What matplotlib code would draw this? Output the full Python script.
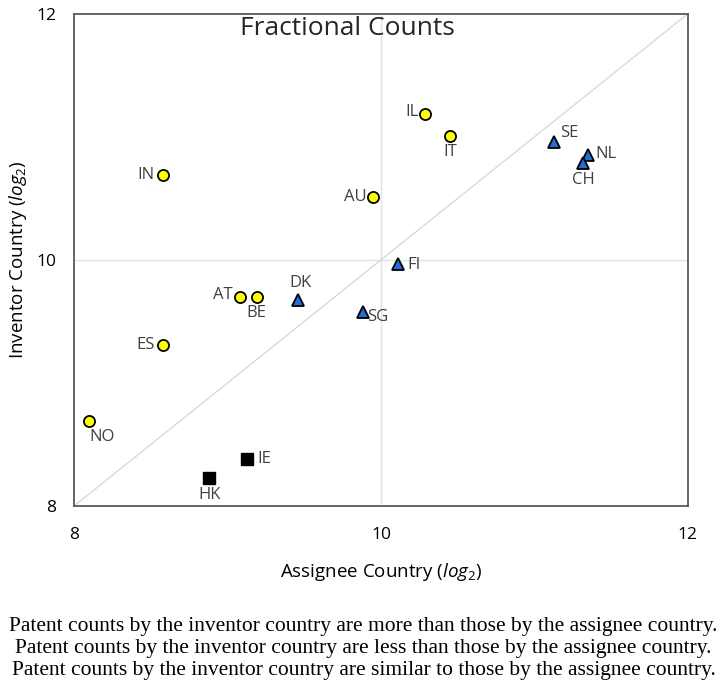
import numpy as np
import matplotlib
matplotlib.use("Agg")
import matplotlib.pyplot as plt

plt.rcParams['font.family'] = ['Open Sans', 'DejaVu Sans']
plt.rcParams['mathtext.fontset'] = 'custom'
plt.rcParams['mathtext.rm'] = 'Open Sans'
plt.rcParams['mathtext.it'] = 'Open Sans:italic'

# inventor > assignee (yellow circles)
more_names = ["NO", "ES", "AT", "BE", "IN", "AU", "IL", "IT"]
more_x = [8.10, 8.58, 9.08, 9.19, 8.58, 9.95, 10.29, 10.45]
more_y = [8.69, 9.31, 9.70, 9.70, 10.69, 10.51, 11.19, 11.01]

# inventor < assignee (blue triangles)
less_names = ["DK", "SG", "FI", "SE", "NL", "CH"]
less_x = [9.46, 9.88, 10.11, 11.13, 11.35, 11.32]
less_y = [9.67, 9.58, 9.97, 10.96, 10.85, 10.79]

# similar (black squares)
sim_names = ["IE", "HK"]
sim_x = [9.13, 8.88]
sim_y = [8.38, 8.23]

ticks = [8, 10, 12]

legend_lines = [
    "Patent counts by the inventor country are more than those by the assignee country.",
    "Patent counts by the inventor country are less than those by the assignee country.",
    "Patent counts by the inventor country are similar to those by the assignee country.",
]

# label offsets in points (dx, dy, ha, va)
offsets = {
    "NO": (0, -6, "left", "top"), "ES": (-6, 0, "right", "center"),
    "AT": (-5, 1, "right", "center"), "BE": (0, -6, "center", "top"),
    "IN": (-6, 0, "right", "center"), "AU": (-5, 0, "right", "center"),
    "IL": (-5, 1, "right", "center"), "IT": (0, -6, "center", "top"),
    "DK": (2, 7, "center", "bottom"), "SG": (3, -4, "left", "center"),
    "FI": (7, -1, "left", "center"), "SE": (4, 6, "left", "center"),
    "NL": (5, 1, "left", "center"), "CH": (0, -7, "center", "top"),
    "IE": (7, 0, "left", "center"), "HK": (0, -7, "center", "top"),
}

fig = plt.figure(figsize=(7.27, 6.94), dpi=100)
ax = fig.add_axes([0.102, 0.271, 0.844, 0.709])

ax.plot([8, 12], [8, 12], color="#d9d9d9", lw=1, zorder=1)
ax.axvline(10, color="#e3e3e3", lw=1, zorder=0)
ax.axhline(10, color="#e3e3e3", lw=1, zorder=0)

ax.plot(more_x, more_y, "o", ms=8, mfc="#ffff00", mec="black", mew=1.3, zorder=3)
ax.plot(less_x, less_y, "^", ms=8.5, mfc="#1f6fd6", mec="black", mew=1.3, zorder=3)
ax.plot(sim_x, sim_y, "s", ms=9, mfc="black", mec="black", zorder=3)

for names, xs, ys in [(more_names, more_x, more_y), (less_names, less_x, less_y), (sim_names, sim_x, sim_y)]:
    for n, x, y in zip(names, xs, ys):
        dx, dy, ha, va = offsets[n]
        ax.annotate(n, (x, y), xytext=(dx, dy), textcoords="offset points",
                    ha=ha, va=va, fontsize=12, color="#404040")

ax.set_xlim(8, 12)
ax.set_ylim(8, 12)
ax.set_xticks(ticks)
ax.set_yticks(ticks)
ax.tick_params(length=0, labelsize=12.5, pad=13)
ax.tick_params(axis="x", pad=15)
for s in ax.spines.values():
    s.set_color("#595959")
    s.set_linewidth(1.3)

ax.set_xlabel(r"Assignee Country ($\mathit{log}_2$)", fontsize=13.5, labelpad=13)
ax.set_ylabel(r"Inventor Country ($\mathit{log}_2$)", fontsize=13.5, labelpad=5)
ax.text(0.445, 0.995, "Fractional Counts", transform=ax.transAxes, ha="center", va="top",
        fontsize=19, color="#262626")

for i, line in enumerate(legend_lines):
    fig.text(0.5, 1 - (626 + 22 * i) / 694, line, ha="center", va="center",
             fontsize=15.5, family="Liberation Serif", color="black")

fig.savefig("out.png", dpi=100)
